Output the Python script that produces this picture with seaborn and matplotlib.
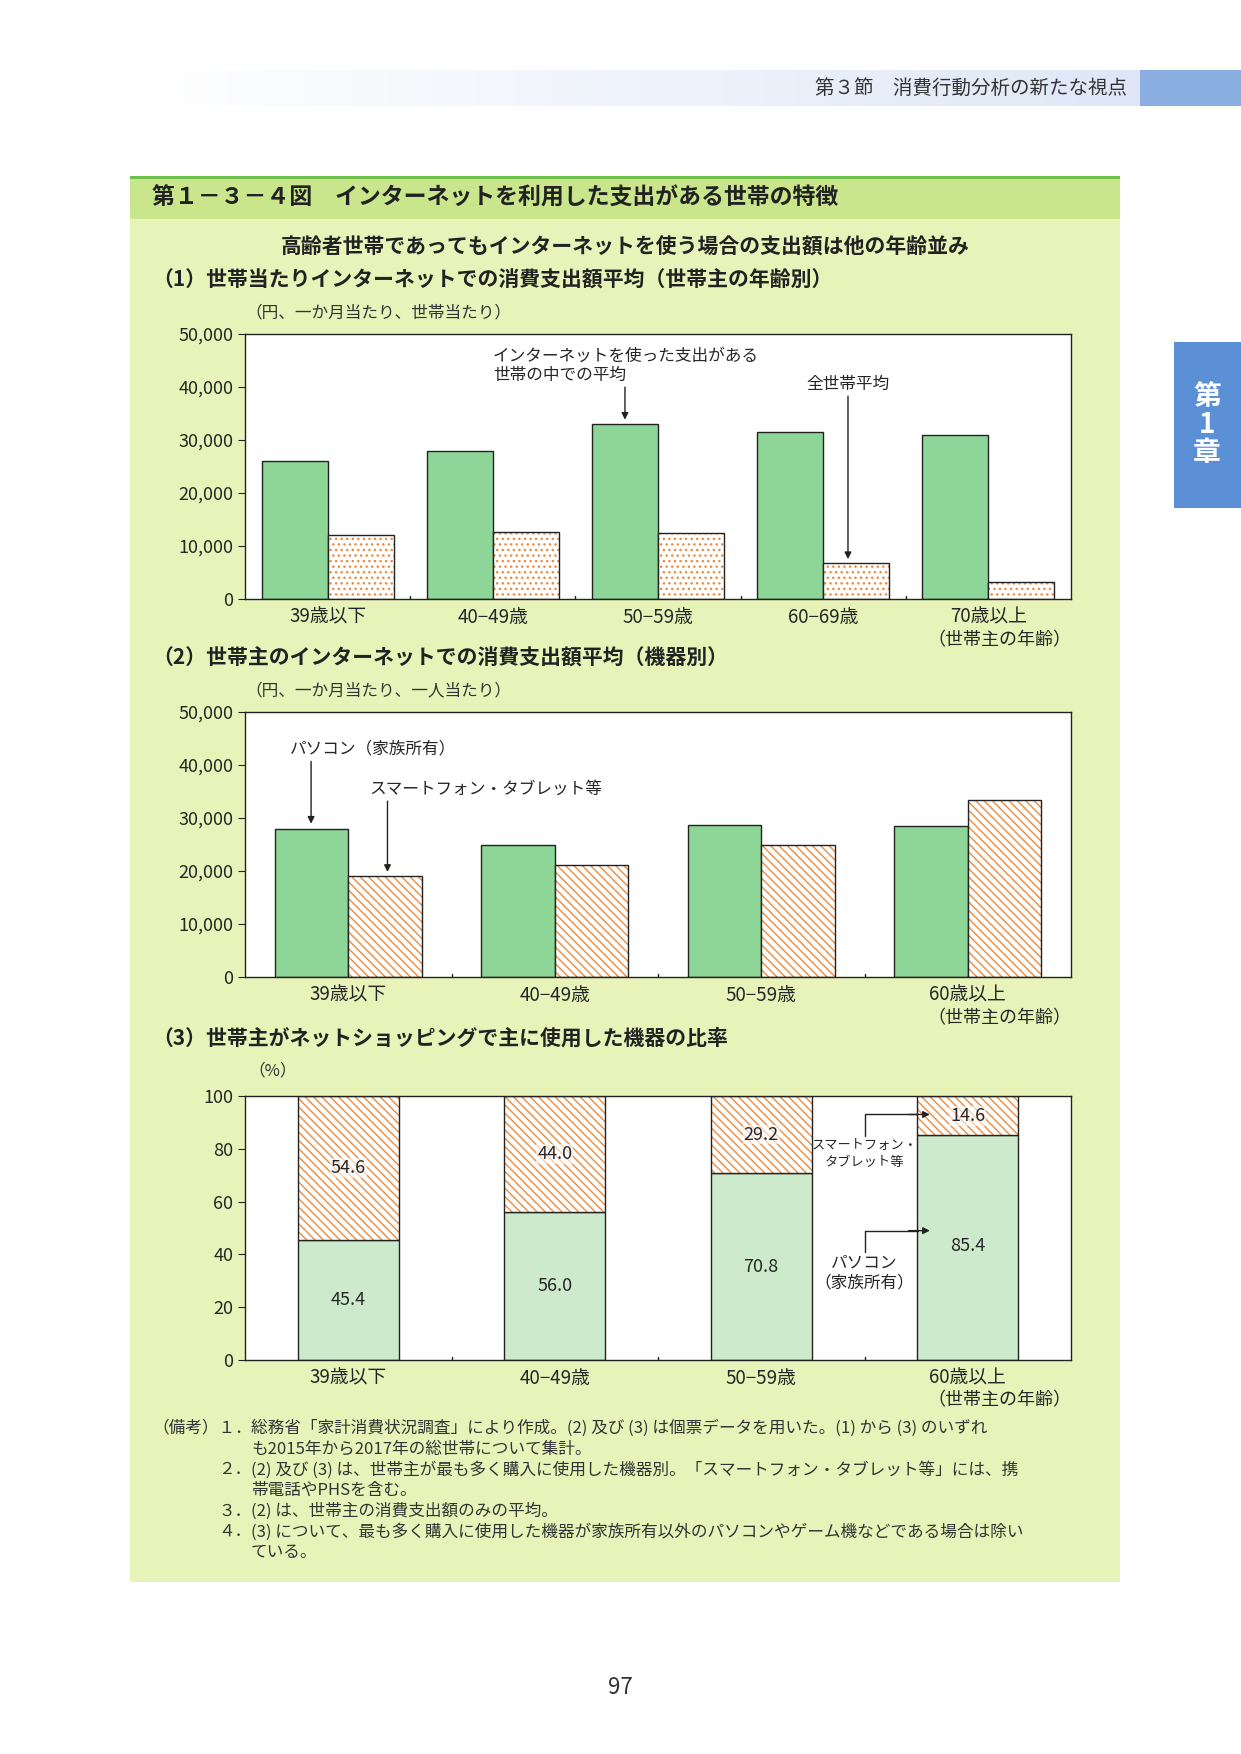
import numpy as np
import pandas as pd
import matplotlib
matplotlib.use("Agg")
import matplotlib.pyplot as plt
from matplotlib.patches import Rectangle
import seaborn as sns

sns.set_style("white")
plt.rcParams['font.family'] = ['Noto Sans CJK JP', 'DejaVu Sans']

# ---- data ----
ages1 = ["39歳以下", "40−49歳", "50−59歳", "60−69歳", "70歳以上"]
net_users_avg = [26000, 28000, 33000, 31500, 31000]
all_hh_avg = [12000, 12700, 12500, 6700, 3200]

ages2 = ["39歳以下", "40−49歳", "50−59歳", "60歳以上"]
pc_spend = [28000, 25000, 28700, 28500]
sp_spend = [19000, 21200, 25000, 33400]

pc_share = [45.4, 56.0, 70.8, 85.4]
sp_share = [54.6, 44.0, 29.2, 14.6]

GREEN = "#8dd698"
LGREEN = "#cdebcc"
ORANGE = "#f08a3c"
BG = "#e8f3b9"

W, H = 1241, 1754
fig = plt.figure(figsize=(W/100, H/100), dpi=100)
fig.patch.set_facecolor("white")

def fx(x): return x / W
def fy(y): return 1 - y / H

def rect(x0, y0, x1, y1, color, z=-5):
    fig.patches.append(Rectangle((fx(x0), fy(y1)), fx(x1-x0), (y1-y0)/H,
                                 transform=fig.transFigure, color=color, zorder=z, lw=0))

# header band gradient
grad = np.linspace(0, 1, 256).reshape(1, -1)
hax = fig.add_axes([fx(140), fy(106), fx(1000), 36/H])
hax.imshow(grad, aspect='auto', cmap=matplotlib.colors.LinearSegmentedColormap.from_list('g', ['#ffffff', '#dfe7f7']), extent=[0, 1, 0, 1])
hax.axis('off')
rect(1139, 70, 1241, 106, "#8aaee0")
fig.text(fx(1127), fy(88), "第３節　消費行動分析の新たな視点", ha='right', va='center', fontsize=14, color="#333333")

# side tab
rect(1174, 342, 1241, 508, "#5b8fd6")
fig.text(fx(1207), fy(425), "第\n1\n章", ha='center', va='center', fontsize=20, color="white", fontweight='bold', linespacing=1.0)

# panel background
rect(130, 177, 1120, 1582, BG)
rect(130, 177, 1120, 219, "#c9e68c")
rect(130, 176, 1120, 179, "#6cc04a")
fig.text(fx(152), fy(198), "第１－３－４図　インターネットを利用した支出がある世帯の特徴", va='center', fontsize=16.5, fontweight='bold', color="#222222")
fig.text(fx(625), fy(247), "高齢者世帯であってもインターネットを使う場合の支出額は他の年齢並み", ha='center', va='center', fontsize=15, fontweight='bold', color="#222222")
fig.text(fx(152), fy(280), "（1）世帯当たりインターネットでの消費支出額平均（世帯主の年齢別）", va='center', fontsize=15, fontweight='bold', color="#222222")
fig.text(fx(245), fy(313), "（円、一か月当たり、世帯当たり）", va='center', fontsize=12, color="#333333")
fig.text(fx(152), fy(658), "（2）世帯主のインターネットでの消費支出額平均（機器別）", va='center', fontsize=15, fontweight='bold', color="#222222")
fig.text(fx(245), fy(691), "（円、一か月当たり、一人当たり）", va='center', fontsize=12, color="#333333")
fig.text(fx(152), fy(1038), "（3）世帯主がネットショッピングで主に使用した機器の比率", va='center', fontsize=15, fontweight='bold', color="#222222")
fig.text(fx(248), fy(1071), "（%）", va='center', fontsize=12, color="#333333")

def style_axes(ax, ymax, step, fmt):
    ax.set_facecolor("white")
    ax.set_ylim(0, ymax)
    ax.set_yticks(np.arange(0, ymax+1, step))
    ax.set_yticklabels([fmt(v) for v in np.arange(0, ymax+1, step)], fontsize=13)
    ax.set_xlabel(""); ax.set_ylabel("")
    for s in ax.spines.values():
        s.set_color("#222222"); s.set_linewidth(1)
    ax.tick_params(axis='y', left=True, length=5, color="#222222")
    ax.tick_params(axis='x', bottom=False, labelsize=13.5, pad=2)

def hatch_overlay(ax, patch, hatch, alpha_fill="white"):
    patch.set_facecolor(alpha_fill)
    patch.set_edgecolor(ORANGE)
    patch.set_hatch(hatch)
    patch.set_linewidth(0)
    x, y = patch.get_xy()
    ax.add_patch(Rectangle((x, y), patch.get_width(), patch.get_height(), fill=False, ec="#222222", lw=1, zorder=3))

def outline(ax, patch, fc):
    patch.set_facecolor(fc); patch.set_edgecolor("#222222"); patch.set_linewidth(1)

def group_seps(ax, n):
    for i in range(n-1):
        ax.plot([i+0.5, i+0.5], [0, 0.012], transform=ax.get_xaxis_transform(), color="#222222", lw=1)

def age_note(ax, xr):
    ax.text(xr, -0.12, "（世帯主の年齢）", transform=ax.get_xaxis_transform(), ha='right', va='top', fontsize=13)

# ---- panel 1 ----
ax1 = fig.add_axes([fx(245), fy(599), fx(1071-245), (599-334)/H])
df1 = pd.DataFrame({"age": ages1*2, "v": net_users_avg + all_hh_avg,
                    "s": ["net"]*5 + ["all"]*5})
sns.barplot(data=df1, x="age", y="v", hue="s", ax=ax1, legend=False, width=0.8, errorbar=None)
style_axes(ax1, 50000, 10000, lambda v: f"{int(v):,}")
ax1.set_xlim(-0.5, 4.5)
for i, p in enumerate(list(ax1.patches)[:10]):
    if i < 5: outline(ax1, p, GREEN)
    else: hatch_overlay(ax1, p, "...")
group_seps(ax1, 5)
age_note(ax1, 4.5)
ax1.text(1.0, 44000, "インターネットを使った支出がある\n世帯の中での平均", fontsize=12, ha='left', va='center', linespacing=1.2)
ax1.annotate("", xy=(1.8, 33300), xytext=(1.8, 40500), arrowprops=dict(arrowstyle='-|>', color="#222222", lw=1))
ax1.text(3.15, 40500, "全世帯平均", fontsize=12, ha='center', va='center')
ax1.annotate("", xy=(3.15, 7000), xytext=(3.15, 38800), arrowprops=dict(arrowstyle='-|>', color="#222222", lw=1))

# ---- panel 2 ----
ax2 = fig.add_axes([fx(245), fy(977), fx(1071-245), (977-712)/H])
df2 = pd.DataFrame({"age": ages2*2, "v": pc_spend + sp_spend, "s": ["pc"]*4 + ["sp"]*4})
sns.barplot(data=df2, x="age", y="v", hue="s", ax=ax2, legend=False, width=0.71, errorbar=None)
style_axes(ax2, 50000, 10000, lambda v: f"{int(v):,}")
ax2.set_xlim(-0.5, 3.5)
for i, p in enumerate(list(ax2.patches)[:8]):
    if i < 4: outline(ax2, p, GREEN)
    else: hatch_overlay(ax2, p, "\\\\\\\\")
group_seps(ax2, 4)
age_note(ax2, 3.5)
ax2.text(-0.28, 43000, "パソコン（家族所有）", fontsize=12, ha='left', va='center')
ax2.annotate("", xy=(-0.18, 28400), xytext=(-0.18, 41200), arrowprops=dict(arrowstyle='-|>', color="#222222", lw=1))
ax2.text(0.1, 35500, "スマートフォン・タブレット等", fontsize=12, ha='left', va='center')
ax2.annotate("", xy=(0.19, 19300), xytext=(0.19, 33700), arrowprops=dict(arrowstyle='-|>', color="#222222", lw=1))

# ---- panel 3 ----
ax3 = fig.add_axes([fx(245), fy(1360), fx(1071-245), (1360-1096)/H])
sns.barplot(x=ages2, y=pc_share, ax=ax3, width=0.49, color=LGREEN, errorbar=None)
sns.barplot(x=ages2, y=sp_share, bottom=pc_share, ax=ax3, width=0.49, color="white", errorbar=None)
style_axes(ax3, 100, 20, lambda v: f"{int(v)}")
ax3.set_xlim(-0.5, 3.5)
ps = list(ax3.patches)
for i, p in enumerate(ps[:8]):
    if i < 4: outline(ax3, p, LGREEN)
    else: hatch_overlay(ax3, p, "\\\\\\\\")
group_seps(ax3, 4)
for i in range(4):
    ax3.text(i, pc_share[i]/2 if i < 3 else 43, f"{pc_share[i]:.1f}", ha='center', va='center', fontsize=13, zorder=5)
    ys = pc_share[i] + sp_share[i]/2
    if i == 3: ys = 92.5
    ax3.text(i, ys, f"{sp_share[i]:.1f}", ha='center', va='center', fontsize=13, zorder=5,
             bbox=dict(boxstyle='square,pad=0.05', fc='white', ec='none', alpha=0.6))
age_note(ax3, 3.5)
ax3.text(2.5, 78, "スマートフォン・\nタブレット等", fontsize=9.5, ha='center', va='center', linespacing=1.4)
ax3.plot([2.5, 2.5, 2.76], [85, 93, 93], color="#222222", lw=1)
ax3.annotate("", xy=(2.83, 93), xytext=(2.7, 93), arrowprops=dict(arrowstyle='-|>', color="#222222", lw=1))
ax3.text(2.5, 33, "パソコン\n（家族所有）", fontsize=12, ha='center', va='center', linespacing=1.2)
ax3.plot([2.5, 2.5, 2.76], [41, 49, 49], color="#222222", lw=1)
ax3.annotate("", xy=(2.83, 49), xytext=(2.7, 49), arrowprops=dict(arrowstyle='-|>', color="#222222", lw=1))

# notes
notes = [
    ("（備考）１．", "総務省「家計消費状況調査」により作成。(2) 及び (3) は個票データを用いた。(1) から (3) のいずれ"),
    ("", "も2015年から2017年の総世帯について集計。"),
    ("２．", "(2) 及び (3) は、世帯主が最も多く購入に使用した機器別。「スマートフォン・タブレット等」には、携"),
    ("", "帯電話やPHSを含む。"),
    ("３．", "(2) は、世帯主の消費支出額のみの平均。"),
    ("４．", "(3) について、最も多く購入に使用した機器が家族所有以外のパソコンやゲーム機などである場合は除い"),
    ("", "ている。"),
]
y = 1428
for lab, txt in notes:
    if lab.startswith("（備考）"):
        fig.text(fx(152), fy(y), lab, va='center', fontsize=12, color="#333333")
    elif lab:
        fig.text(fx(218), fy(y), lab, va='center', fontsize=12, color="#333333")
    fig.text(fx(251), fy(y), txt, va='center', fontsize=12, color="#333333")
    y += 20.8

fig.text(0.5, fy(1687), "97", ha='center', va='center', fontsize=16, color="#333333")

fig.savefig("out.png", dpi=100, facecolor="white")
